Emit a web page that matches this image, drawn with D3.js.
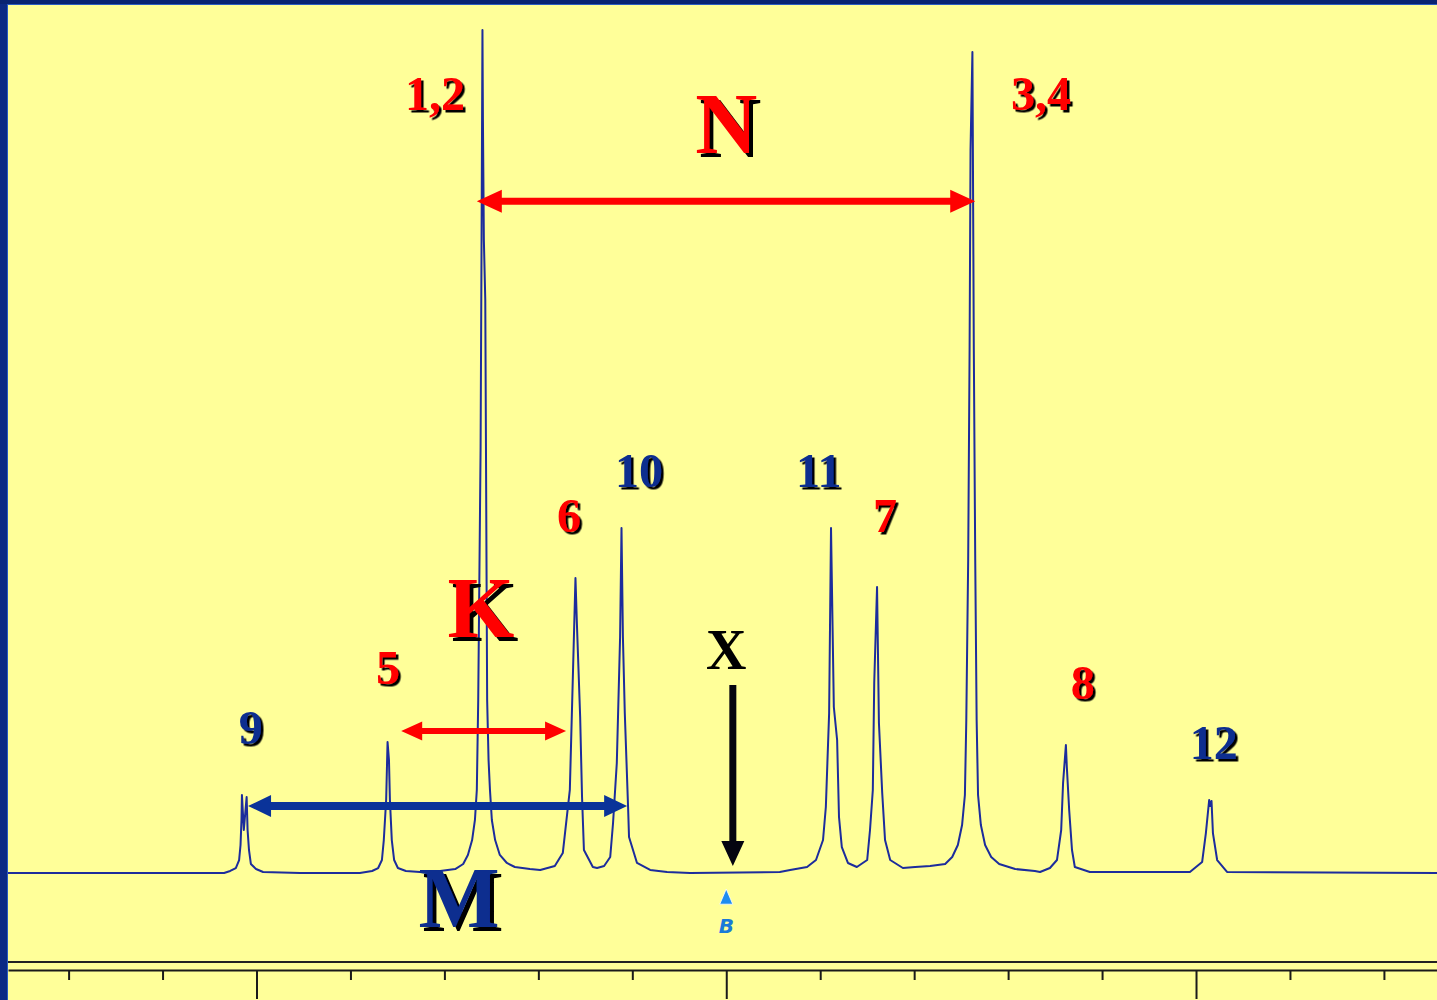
<!DOCTYPE html>
<html><head><meta charset="utf-8">
<script src="https://cdn.jsdelivr.net/npm/d3@7"></script>
<style>html,body{margin:0;padding:0;background:#FFFF99;overflow:hidden}</style>
</head><body>
<svg id="c" width="1437" height="1000"></svg>
<script>
// Spectrum: [chemical shift (ppm), relative intensity (%)]
const spectrum = [
[3.529,0],[3.069,0],[3.056,0.24],[3.044,0.59],[3.037,1.54],[3.034,3.32],[3.032,6.29],[3.031,9.25],[3.027,5.10],[3.021,9.02],[3.019,5.10],[3.016,2.73],[3.012,1.07],[3.001,0.47],[2.986,0.12],[2.907,0],
[2.780,0],[2.754,0.24],[2.741,0.59],[2.733,1.54],[2.729,3.91],[2.724,8.66],[2.721,15.54],[2.718,13.40],[2.716,8.66],[2.712,3.91],[2.707,1.54],[2.699,0.59],[2.682,0.24],[2.652,0.12],
[2.609,0.24],[2.577,0.47],[2.560,1.07],[2.550,2.14],[2.541,3.91],[2.535,6.29],[2.531,9.85],[2.528,20.52],[2.526,32.38],[2.523,50.18],[2.521,73.90],[2.519,100],[2.518,89.32],[2.516,75.09],[2.513,67.97],[2.510,32.38],[2.509,20.52],[2.506,13.40],[2.503,9.85],[2.499,6.29],[2.492,3.91],[2.482,2.14],[2.467,1.19],[2.450,0.71],[2.418,0.47],[2.396,0.36],[2.365,0.83],
[2.348,2.37],[2.333,9.85],[2.326,24.44],[2.321,34.99],[2.318,29.66],[2.311,18.51],[2.307,9.02],[2.303,2.73],[2.284,0.71],[2.275,0.59],
[2.260,0.83],[2.247,1.90],[2.241,5.93],[2.233,13.05],[2.226,28.00],[2.223,40.93],[2.220,28.00],[2.216,18.98],[2.209,7.83],[2.207,4.27],[2.190,1.19],[2.162,0.36],[2.126,0.12],[2.077,0],
[1.886,0.12],[1.864,0.36],[1.828,0.71],[1.809,1.54],[1.794,3.91],[1.788,7.83],[1.781,18.98],[1.777,40.93],[1.771,19.69],[1.764,15.78],[1.760,6.64],[1.754,3.08],[1.741,1.19],[1.722,0.71],
[1.700,1.54],[1.694,5.10],[1.688,9.85],[1.685,22.54],[1.679,33.93],[1.675,17.79],[1.668,9.49],[1.662,3.91],[1.651,1.54],[1.624,0.59],[1.598,0.71],
[1.566,0.83],[1.534,1.07],[1.519,1.90],[1.507,3.32],[1.498,5.69],[1.492,9.25],[1.489,18.15],[1.485,37.13],[1.482,62.04],[1.480,85.77],[1.476,97.39],[1.475,85.77],[1.473,62.04],[1.470,37.13],[1.467,18.15],[1.464,9.25],[1.458,5.69],[1.449,3.32],[1.436,1.90],[1.419,1.07],[1.385,0.47],[1.343,0.24],
[1.332,0.12],[1.311,0.59],[1.296,1.54],[1.287,5.10],[1.283,10.68],[1.277,15.18],[1.275,12.57],[1.270,7.47],[1.264,2.73],[1.258,0.71],[1.226,0.12],
[1.013,0.12],[0.987,1.30],[0.979,4.74],[0.972,8.66],[0.970,7.95],[0.967,8.54],[0.964,4.74],[0.955,1.54],[0.934,0.12],[0.487,0]
];

const minorTicks = [3.4,3.2,2.8,2.6,2.4,2.2,1.8,1.6,1.4,1.2,0.8,0.6];
const majorTicks = [3.0,2.0,1.0];

// peak labels: text, ppm, intensity at baseline of text, colour group, size group
const labels = [
  {text:"1,2", ppm:2.620, val:90.5, col:"red",  size:"num"},
  {text:"3,4", ppm:1.330, val:90.5, col:"red",  size:"num"},
  {text:"N",   ppm:2.000, val:85.4, col:"red",  size:"big"},
  {text:"10",  ppm:2.186, val:45.8, col:"blue", size:"num"},
  {text:"11",  ppm:1.803, val:45.8, col:"blue", size:"num"},
  {text:"6",   ppm:2.335, val:40.5, col:"red",  size:"num"},
  {text:"7",   ppm:1.662, val:40.5, col:"red",  size:"num"},
  {text:"K",   ppm:2.522, val:28.0, col:"red",  size:"big"},
  {text:"5",   ppm:2.720, val:22.4, col:"red",  size:"num"},
  {text:"X",   ppm:2.000, val:24.2, col:"black",size:"x"},
  {text:"9",   ppm:3.012, val:15.3, col:"blue", size:"num"},
  {text:"8",   ppm:1.241, val:20.6, col:"red",  size:"num"},
  {text:"12",  ppm:0.962, val:13.5, col:"blue", size:"num"},
  {text:"M",   ppm:2.569, val:-6.4, col:"blue", size:"big"}
];

// coupling arrows: from/to ppm at an intensity level
const hArrows = [
  {name:"N", from:2.531, to:1.470, val:79.7, col:"red"},
  {name:"K", from:2.692, to:2.341, val:16.84, col:"red"},
  {name:"M", from:3.018, to:2.211, val:7.95, col:"blue"}
];
const vArrows = [
  {name:"X", ppm:1.986, from:22.3, to:0.83, col:"black"}
];
const markerPpm = [2.000];

const W = 1437, H = 1000;
const colors = {red:"#FF0000", blue:"#0B2D8F", black:"#000000"};
const svg = d3.select("#c");

const defs = svg.append("defs");
[["shNum",2.5],["shBig",4],["shX",1.2]].forEach(([id,d])=>{
  defs.append("filter").attr("id",id).attr("x","-20%").attr("y","-20%").attr("width","150%").attr("height","150%")
    .append("feDropShadow").attr("dx",d).attr("dy",d).attr("stdDeviation",0.4)
    .attr("flood-color","#000").attr("flood-opacity",1);
});

svg.append("rect").attr("width",W).attr("height",H).attr("fill","#FFFF99");

const x = d3.scaleLinear().domain([3.529, 0.487]).range([8, W]);
const y = d3.scaleLinear().domain([0, 100]).range([873, 30]);

// frame line above axis
svg.append("line").attr("x1",x.range()[0]).attr("x2",x.range()[1])
  .attr("y1",962).attr("y2",962).attr("stroke","#222").attr("stroke-width",2);

// axes
const gMinor = svg.append("g").attr("transform","translate(0,970)")
  .call(d3.axisBottom(x).tickValues(minorTicks).tickSize(10).tickSizeOuter(0).tickFormat(""));
const gMajor = svg.append("g").attr("transform","translate(0,970)")
  .call(d3.axisBottom(x).tickValues(majorTicks).tickSize(29).tickSizeOuter(0).tickFormat(""));
gMajor.select(".domain").remove();
[gMinor,gMajor].forEach(g=>{
  g.selectAll("path,line").attr("stroke","#1a1a1a").attr("stroke-width",2);
});

// spectrum
svg.append("path").datum(spectrum)
  .attr("d", d3.line().x(d=>x(d[0])).y(d=>y(d[1])))
  .attr("fill","none").attr("stroke","#1C2C9C").attr("stroke-width",2)
  .attr("stroke-linejoin","round");

// arrows
function hArrowPath(x1,x2,yy,s,hl,hw){
  return `M${x1},${yy} L${x1+hl},${yy-hw/2} L${x1+hl},${yy-s/2} L${x2-hl},${yy-s/2} L${x2-hl},${yy-hw/2} L${x2},${yy} L${x2-hl},${yy+hw/2} L${x2-hl},${yy+s/2} L${x1+hl},${yy+s/2} L${x1+hl},${yy+hw/2} Z`;
}
const arrowStyle = {N:{s:7,hl:25,hw:23}, K:{s:6,hl:21,hw:19}, M:{s:8,hl:23,hw:22}};
hArrows.forEach(a=>{
  const st = arrowStyle[a.name];
  svg.append("path").attr("d", hArrowPath(x(a.from), x(a.to), y(a.val), st.s, st.hl, st.hw))
    .attr("fill", a.name==="M" ? "#0A3399" : colors[a.col]);
});
vArrows.forEach(a=>{
  const xx = x(a.ppm), y1 = y(a.from), y2 = y(a.to), s=7, hl=25, hw=23;
  svg.append("path")
    .attr("d",`M${xx-s/2},${y1} L${xx+s/2},${y1} L${xx+s/2},${y2-hl} L${xx+hw/2},${y2-hl} L${xx},${y2} L${xx-hw/2},${y2-hl} L${xx-s/2},${y2-hl} Z`)
    .attr("fill","#050510");
});

// reference marker
markerPpm.forEach(p=>{
  const xx = x(p);
  svg.append("path").attr("d",`M${xx},${y(-1.9)} L${xx+6.5},${y(-3.7)} L${xx-6.5},${y(-3.7)} Z`)
    .attr("fill","#1E8CF0").attr("stroke","#ffffff").attr("stroke-width",0.8);
  svg.append("text").attr("x",xx).attr("y",y(-7.1)).attr("text-anchor","middle")
    .attr("font-family","'DejaVu Sans', sans-serif").attr("font-style","italic").attr("font-weight","bold")
    .attr("font-size",20).attr("fill","#1A7AD8").text("B");
});

// labels
const sizeMap = {num:{fs:48, f:"shNum"}, big:{fs:86, f:"shBig"}, x:{fs:56, f:"shX"}};
labels.forEach(l=>{
  const st = sizeMap[l.size];
  svg.append("text")
    .attr("font-family","'Liberation Serif','Times New Roman',serif")
    .attr("font-weight","bold").attr("font-size",st.fs).attr("text-anchor","middle")
    .attr("x",x(l.ppm)).attr("y",y(l.val)).attr("fill",colors[l.col])
    .attr("filter", l.col==="black" ? null : `url(#${st.f})`)
    .text(l.text);
});

// window border (left and top)
svg.append("rect").attr("x",0).attr("y",0).attr("width",7).attr("height",H).attr("fill","#0B2A84");
svg.append("rect").attr("x",0).attr("y",0).attr("width",W).attr("height",4).attr("fill","#082472");
svg.append("line").attr("x1",7.5).attr("x2",7.5).attr("y1",4).attr("y2",H).attr("stroke","#2A5CC0").attr("stroke-width",1);
svg.append("line").attr("x1",7).attr("x2",W).attr("y1",4.5).attr("y2",4.5).attr("stroke","#2A5CC0").attr("stroke-width",1);
</script>
</body></html>
